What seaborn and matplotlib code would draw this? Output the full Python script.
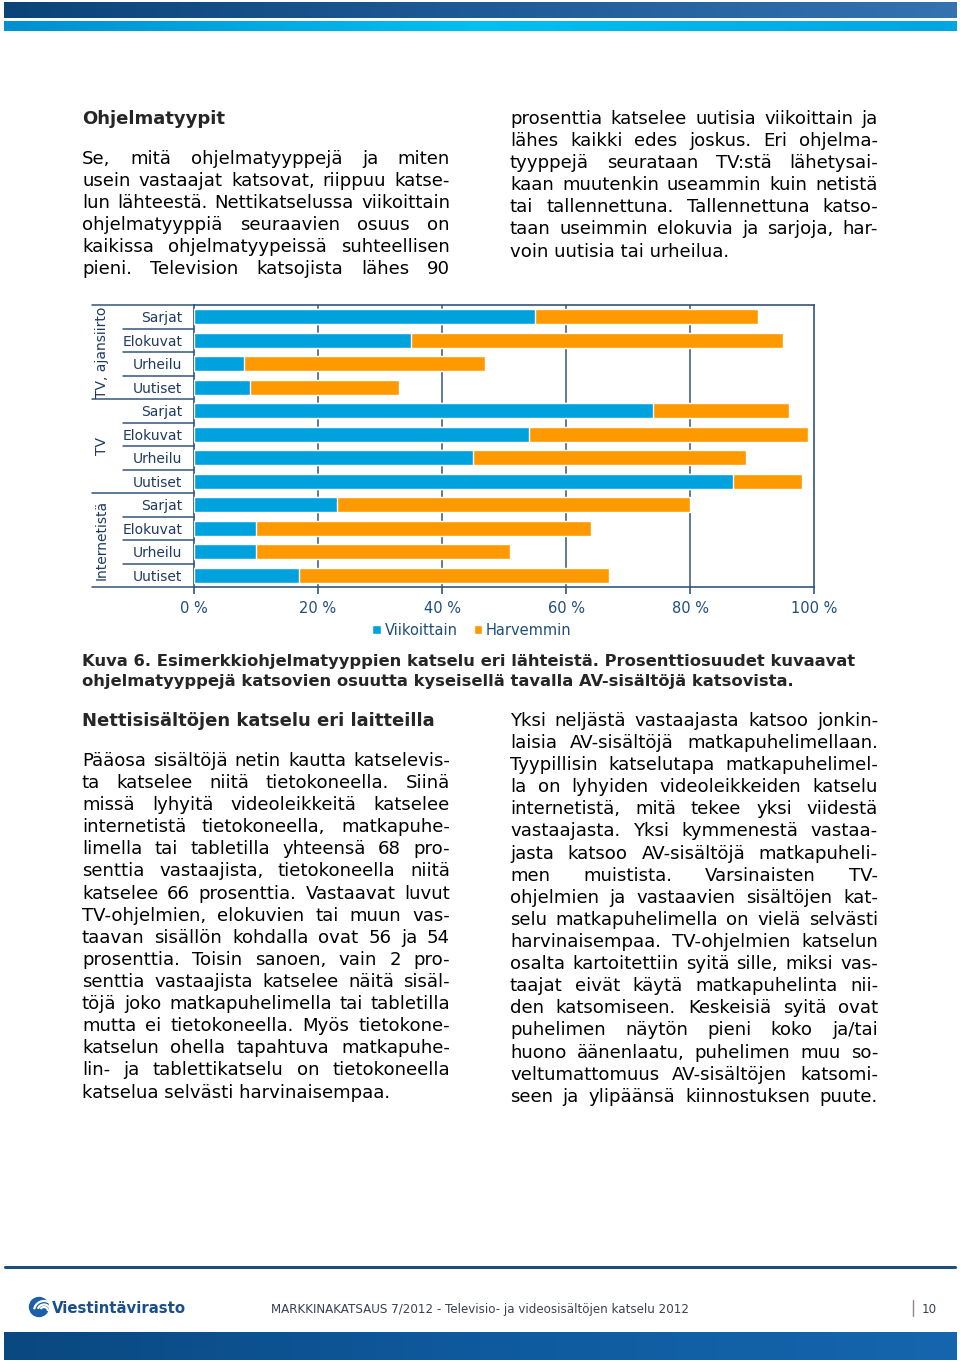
import numpy as np
import pandas as pd
import matplotlib
matplotlib.use('Agg')
import matplotlib.pyplot as plt
from matplotlib.colors import LinearSegmentedColormap
from matplotlib.patches import Patch, Circle, Arc
import matplotlib.transforms as mtransforms
import seaborn as sns

# ── Data ─────────────────────────────────────────────────────
lahteet = ['TV, ajansiirto', 'TV', 'Internetistä']
ohjelmat = ['Sarjat', 'Elokuvat', 'Urheilu', 'Uutiset']
viikoittain = [55, 35, 8, 9, 74, 54, 45, 87, 23, 10, 10, 17]
harvemmin = [36, 60, 39, 24, 22, 45, 44, 11, 57, 54, 41, 50]
x_ticks = [0, 20, 40, 60, 80, 100]
x_labels = ['0 %', '20 %', '40 %', '60 %', '80 %', '100 %']
sarjat = ['Viikoittain', 'Harvemmin']

# ── Page text ────────────────────────────────────────────────
otsikko1 = "Ohjelmatyypit"
vasen1 = [
    "Se, mitä ohjelmatyyppejä ja miten",
    "usein vastaajat katsovat, riippuu katse-",
    "lun lähteestä. Nettikatselussa viikoittain",
    "ohjelmatyyppiä seuraavien osuus on",
    "kaikissa ohjelmatyypeissä suhteellisen",
    "pieni. Television katsojista lähes 90",
]
oikea1 = [
    "prosenttia katselee uutisia viikoittain ja",
    "lähes kaikki edes joskus. Eri ohjelma-",
    "tyyppejä seurataan TV:stä lähetysai-",
    "kaan muutenkin useammin kuin netistä",
    "tai tallennettuna. Tallennettuna katso-",
    "taan useimmin elokuvia ja sarjoja, har-",
    "voin uutisia tai urheilua.",
]
kuvateksti = [
    "Kuva 6. Esimerkkiohjelmatyyppien katselu eri lähteistä. Prosenttiosuudet kuvaavat",
    "ohjelmatyyppejä katsovien osuutta kyseisellä tavalla AV-sisältöjä katsovista.",
]
otsikko2 = "Nettisisältöjen katselu eri laitteilla"
vasen2 = [
    "Pääosa sisältöjä netin kautta katselevis-",
    "ta katselee niitä tietokoneella. Siinä",
    "missä lyhyitä videoleikkeitä katselee",
    "internetistä tietokoneella, matkapuhe-",
    "limella tai tabletilla yhteensä 68 pro-",
    "senttia vastaajista, tietokoneella niitä",
    "katselee 66 prosenttia. Vastaavat luvut",
    "TV-ohjelmien, elokuvien tai muun vas-",
    "taavan sisällön kohdalla ovat 56 ja 54",
    "prosenttia. Toisin sanoen, vain 2 pro-",
    "senttia vastaajista katselee näitä sisäl-",
    "töjä joko matkapuhelimella tai tabletilla",
    "mutta ei tietokoneella. Myös tietokone-",
    "katselun ohella tapahtuva matkapuhe-",
    "lin- ja tablettikatselu on tietokoneella",
    "katselua selvästi harvinaisempaa.",
]
oikea2 = [
    "Yksi neljästä vastaajasta katsoo jonkin-",
    "laisia AV-sisältöjä matkapuhelimellaan.",
    "Tyypillisin katselutapa matkapuhelimel-",
    "la on lyhyiden videoleikkeiden katselu",
    "internetistä, mitä tekee yksi viidestä",
    "vastaajasta. Yksi kymmenestä vastaa-",
    "jasta katsoo AV-sisältöjä matkapuheli-",
    "men muistista. Varsinaisten TV-",
    "ohjelmien ja vastaavien sisältöjen kat-",
    "selu matkapuhelimella on vielä selvästi",
    "harvinaisempaa. TV-ohjelmien katselun",
    "osalta kartoitettiin syitä sille, miksi vas-",
    "taajat eivät käytä matkapuhelinta nii-",
    "den katsomiseen. Keskeisiä syitä ovat",
    "puhelimen näytön pieni koko ja/tai",
    "huono äänenlaatu, puhelimen muu so-",
    "veltumattomuus AV-sisältöjen katsomi-",
    "seen ja ylipäänsä kiinnostuksen puute.",
]
alatunniste = "MARKKINAKATSAUS 7/2012 - Televisio- ja videosisältöjen katselu 2012"

BLUE = '#00A2DD'
ORANGE = '#FF9900'
AXIS = '#34557A'
LABEL = '#1F3A5F'
TICK = '#1F4E79'

sns.set_style('white')
plt.rcParams['font.family'] = ['DejaVu Sans']

W, H = 960, 1367
fig = plt.figure(figsize=(W / 100, H / 100), dpi=100)
renderer = fig.canvas.get_renderer()

# background axes in page pixels
bg = fig.add_axes([0, 0, 1, 1], zorder=0)
bg.set_xlim(0, W)
bg.set_ylim(H, 0)
bg.axis('off')


def text_width(s, size, weight='normal'):
    t = bg.text(0, 0, s, fontsize=size, fontweight=weight)
    w = t.get_window_extent(renderer).width
    t.remove()
    return w


def fit_size(s, target, weight='normal'):
    return 10 * target / text_width(s, 10, weight)


def gradient(x0, x1, y0, y1, colors):
    cmap = LinearSegmentedColormap.from_list('g', colors)
    bg.imshow(np.linspace(0, 1, 256)[None, :], cmap=cmap, aspect='auto',
              extent=(x0, x1, y1, y0), interpolation='bilinear', zorder=1)


def paragraph(lines, x0, x1, y0, step, size, justify_last=True):
    for i, line in enumerate(lines):
        y = y0 + i * step
        words = line.split(' ')
        last = (i == len(lines) - 1) and not justify_last
        if len(words) == 1 or last:
            bg.text(x0, y, line, fontsize=size, va='baseline', ha='left', color='black')
            continue
        widths = [text_width(w, size) for w in words]
        gap = (x1 - x0 - sum(widths)) / (len(words) - 1)
        x = x0
        for w, wd in zip(words, widths):
            bg.text(x, y, w, fontsize=size, va='baseline', ha='left', color='black')
            x += wd + gap


# ── Header and footer bands ──────────────────────────────────
gradient(4, 957, 2, 18, ['#0B4478', '#1E5A96', '#3473B0'])
gradient(4, 957, 21, 31, ['#0090D0', '#00C0F2', '#00A6E2'])
bg.plot([5, 955], [1267, 1267], color='#1F4E79', lw=2.2)
gradient(4, 957, 1332, 1360, ['#0A4880', '#0F5A9E', '#1566AE'])

# ── Body text ────────────────────────────────────────────────
body = fit_size("katselua selvästi harvinaisempaa.", 308)
head = fit_size(otsikko2, 353, 'bold')
cap = fit_size(kuvateksti[0], 775, 'bold')

bg.text(82, 124, otsikko1, fontsize=head, fontweight='bold', va='baseline')
paragraph(vasen1, 82, 450, 164, 22.1, body)
paragraph(oikea1, 510, 878, 124, 22.1, body, justify_last=False)
for i, line in enumerate(kuvateksti):
    bg.text(82, 666 + 20 * i, line, fontsize=cap, fontweight='bold', va='baseline')
bg.text(82, 726, otsikko2, fontsize=head, fontweight='bold', va='baseline')
paragraph(vasen2, 82, 450, 766, 22.1, body, justify_last=False)
paragraph(oikea2, 510, 878, 726, 22.1, body)

# ── Footer ───────────────────────────────────────────────────
bg.add_patch(Circle((39, 1307), 9.5, color='#1A5FA8', zorder=3))
for r, t1, t2 in [(6.5, 200, 340), (10, 190, 300), (4, 210, 360)]:
    bg.add_patch(Arc((44, 1311), 2 * r, 2 * r, theta1=t1, theta2=t2,
                     color='white', lw=1.6, zorder=4))
logo = fit_size("Viestintävirasto", 133, 'bold')
bg.text(52, 1313, "Viestintävirasto", fontsize=logo, fontweight='bold',
        color='#1A4F8C', va='baseline')
foot = fit_size(alatunniste, 418)
bg.text(271, 1313, alatunniste, fontsize=foot, color='#3A3F55', va='baseline')
bg.plot([913, 913], [1300, 1316], color='#8A8A8A', lw=1)
bg.text(922, 1313, "10", fontsize=foot, color='#3A3F55', va='baseline')

# ── Chart ────────────────────────────────────────────────────
rivit = [f"{l}|{o}" for l in lahteet for o in ohjelmat]
df = pd.DataFrame({'rivi': rivit,
                   'viikoittain': viikoittain,
                   'harvemmin': harvemmin})
df['yhteensa'] = df['viikoittain'] + df['harvemmin']

x0, x1, ytop, ybot = 194, 814, 305, 587
ax = fig.add_axes([x0 / W, 1 - ybot / H, (x1 - x0) / W, (ybot - ytop) / H], zorder=2)
ax.set_facecolor('none')

sns.barplot(data=df, x='yhteensa', y='rivi', color=ORANGE, saturation=1,
            width=0.64, edgecolor='white', linewidth=1, errorbar=None, ax=ax, zorder=3)
sns.barplot(data=df, x='viikoittain', y='rivi', color=BLUE, saturation=1,
            width=0.64, edgecolor='white', linewidth=1, errorbar=None, ax=ax, zorder=4)

ax.set_xlim(0, 100)
ax.set_ylim(len(rivit) - 0.5, -0.5)
ax.set_xticks(x_ticks)
ax.set_xticklabels(x_labels)
ax.set_yticks(range(len(rivit)))
ax.set_yticklabels([o for l in lahteet for o in ohjelmat])
ax.set_xlabel('')
ax.set_ylabel('')
for v in x_ticks[1:-1]:
    ax.axvline(v, color=AXIS, lw=1.1, zorder=1)
for s in ax.spines.values():
    s.set_visible(True)
    s.set_color(AXIS)
    s.set_linewidth(1.2)
ax.tick_params(axis='x', length=5, width=1.2, color=AXIS, pad=5,
               labelsize=10.5, labelcolor=TICK, bottom=True)
ax.tick_params(axis='y', length=0, pad=8.5, labelsize=10, labelcolor=LABEL)

# category separators and group labels on the left
tr = mtransforms.blended_transform_factory(ax.transAxes, ax.transData)
cat_x = (123 - x0) / (x1 - x0)
grp_x = (92 - x0) / (x1 - x0)
for i in range(len(rivit) + 1):
    y = i - 0.5
    start = grp_x if i % 4 == 0 else cat_x
    ax.plot([start, 0], [y, y], color=AXIS, lw=1.1, transform=tr, clip_on=False)
lab_x = (102 - x0) / (x1 - x0)
for j, l in enumerate(lahteet):
    ax.text(lab_x, j * 4 + 1.5, l, rotation=90, ha='center', va='center',
            fontsize=10, color=LABEL, transform=tr)

handles = [Patch(facecolor=BLUE, label=sarjat[0]), Patch(facecolor=ORANGE, label=sarjat[1])]
leg = ax.legend(handles=handles, loc='center', bbox_to_anchor=(472 / W, 1 - 630 / H),
                bbox_transform=fig.transFigure, ncol=2, frameon=False,
                handlelength=0.6, handleheight=0.6, handletextpad=0.25,
                columnspacing=1.1, fontsize=10.5)
for t in leg.get_texts():
    t.set_color(TICK)

fig.savefig('out.png', dpi=100)
